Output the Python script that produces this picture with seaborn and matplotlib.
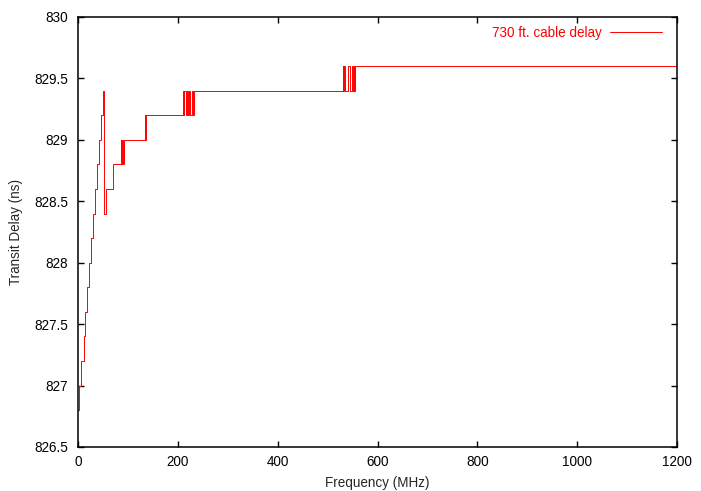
import matplotlib
matplotlib.use("Agg")
import matplotlib.pyplot as plt
import seaborn as sns
import pandas as pd

# Step transitions (frequency in MHz, delay in ns)
freq_mhz = [1, 2.7, 6.7, 12, 14.7, 18.7, 22.7, 26.7, 30.7, 34.7, 38.7, 42.7, 45.4,
            49.4, 52.1, 56.1, 69.4,
            85.5, 86.5, 88.5, 89.5, 92.5,
            133.5, 134.5, 136.5,
            210.3, 211.7, 213, 215.7, 218.3, 221, 223, 225, 229, 230.3, 231.7,
            530, 531, 533.5, 534.5, 541, 544, 549, 550, 552, 553.5, 554.5,
            1200]
delay_ns = [826.8, 827.0, 827.2, 827.4, 827.6, 827.8, 828.0, 828.2, 828.4, 828.6, 828.8, 829.0, 829.2,
            829.4, 828.4, 828.6, 828.8,
            829.0, 828.8, 829.0, 828.8, 829.0,
            829.2, 829.0, 829.2,
            829.4, 829.2, 829.4, 829.2, 829.4, 829.2, 829.4, 829.2, 829.4, 829.2, 829.4,
            829.6, 829.4, 829.6, 829.4, 829.6, 829.4, 829.6, 829.4, 829.6, 829.4, 829.6,
            829.6]

series_label = "730 ft. cable delay"
x_ticks = [0, 200, 400, 600, 800, 1000, 1200]
y_ticks = [826.5, 827, 827.5, 828, 828.5, 829, 829.5, 830]
y_tick_labels = ["826.5", "827", "827.5", "828", "828.5", "829", "829.5", "830"]

df = pd.DataFrame({"Frequency (MHz)": freq_mhz, "Transit Delay (ns)": delay_ns})

sns.set_style("ticks")
plt.rcParams["font.family"] = ["Liberation Sans", "DejaVu Sans"]
plt.rcParams.update({
    "xtick.direction": "in", "ytick.direction": "in",
    "xtick.top": True, "ytick.right": True,
    "xtick.major.size": 4.5, "ytick.major.size": 4.5,
    "xtick.major.width": 1.0, "ytick.major.width": 1.0,
    "axes.linewidth": 1.1, "axes.edgecolor": "black",
    "xtick.color": "black", "ytick.color": "black",
    "font.size": 9.75,
})

fig = plt.figure(figsize=(7.01, 4.91), dpi=100)
ax = fig.add_axes([78 / 701, 1 - 447 / 491, (677 - 78) / 701, (447 - 17) / 491])

sns.lineplot(data=df, x="Frequency (MHz)", y="Transit Delay (ns)", ax=ax,
             drawstyle="steps-post", color="#ff0000", linewidth=0.7,
             estimator=None, sort=False, label=series_label)

ax.set_xlim(0, 1200)
ax.set_ylim(826.5, 830)
ax.set_xticks(x_ticks)
ax.set_xticklabels([str(t) for t in x_ticks], fontsize=9.75)
ax.set_yticks(y_ticks)
ax.set_yticklabels(y_tick_labels, fontsize=9.75)
ax.tick_params(axis="x", pad=6)
ax.tick_params(axis="y", pad=7)
ax.set_xlabel("Frequency (MHz)", fontsize=9.75, labelpad=5)
ax.set_ylabel("Transit Delay (ns)", fontsize=9.75, labelpad=8)
for s in ax.spines.values():
    s.set_visible(True)

leg = ax.legend(loc="upper right", bbox_to_anchor=((661.7 - 78) / 599, 1 - (26 - 17) / 430),
                frameon=False, markerfirst=False, labelcolor="#ff0000",
                handlelength=3.8, handletextpad=0.6, borderpad=0, borderaxespad=0,
                fontsize=9.75)

fig.savefig("out.png", dpi=100)
